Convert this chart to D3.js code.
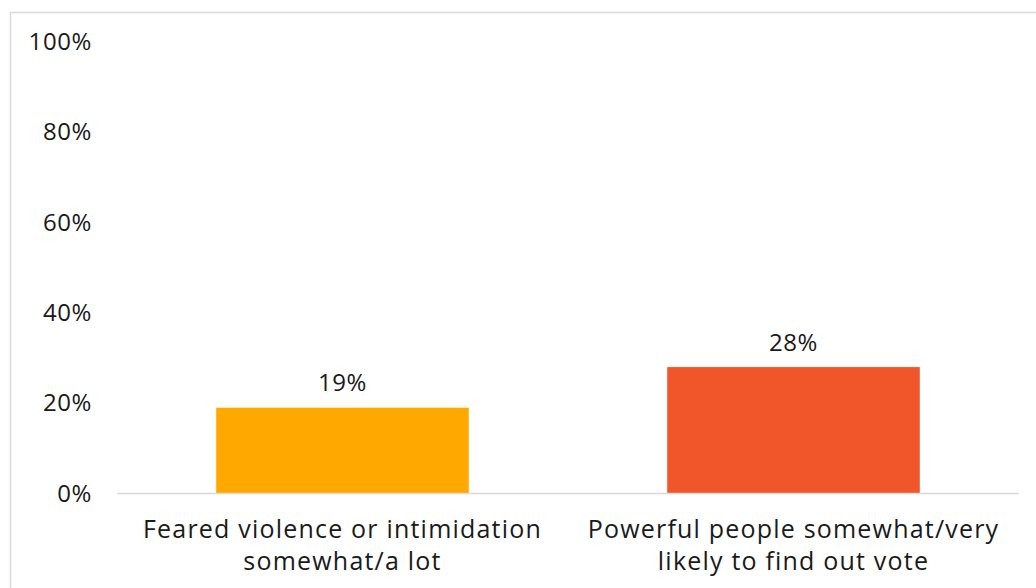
<!DOCTYPE html>
<html>
<head>
<meta charset="utf-8">
<script src="https://cdn.jsdelivr.net/npm/d3@7"></script>
<style>
  html, body { margin: 0; padding: 0; background: #fff; }
  svg { display: block; }
  text { font-family: "Open Sans", "Lato", sans-serif; fill: #1a1a1a; }
</style>
</head>
<body>
<svg id="chart" width="1036" height="588"></svg>
<script>
// Survey results
const categories = [
  ["Feared violence or intimidation", "somewhat/a lot"],
  ["Powerful people somewhat/very", "likely to find out vote"]
];
const values = [0.19, 0.28];
const barColors = ["#FFA800", "#F1562A"];
const yTicks = [0, 0.2, 0.4, 0.6, 0.8, 1.0];

const svg = d3.select("#chart");
const W = 1036, H = 588;
const plot = { left: 117, right: 1019, top: 42, bottom: 493.5 };
const fontSize = 25;
const spacing = "1.2px";

// outer frame
svg.append("rect")
  .attr("x", 10.5).attr("y", 12.5)
  .attr("width", W + 20).attr("height", H + 20)
  .attr("fill", "none").attr("stroke", "#d9d9d9").attr("stroke-width", 1.5);

const keys = categories.map((c, i) => i);
const x = d3.scaleBand()
  .domain(keys)
  .range([plot.left, plot.right])
  .paddingInner(0.44)
  .paddingOuter(0.22);

const y = d3.scaleLinear().domain([0, 1]).range([plot.bottom, plot.top]);

// y axis labels
const yAxis = d3.axisLeft(y)
  .tickValues(yTicks)
  .tickFormat(d3.format(".0%"))
  .tickSize(0)
  .tickPadding(0);
const gy = svg.append("g")
  .attr("transform", `translate(92,0)`)
  .call(yAxis);
gy.select(".domain").remove();
gy.selectAll("text")
  .attr("font-size", 24)
  .attr("letter-spacing", "0.6px")
  .attr("font-family", "'Open Sans', sans-serif")
  .attr("fill", "#1a1a1a");

// bars
svg.append("g").selectAll("rect")
  .data(values)
  .join("rect")
  .attr("x", (d, i) => x(i))
  .attr("width", x.bandwidth())
  .attr("y", d => y(d))
  .attr("height", d => y(0) - y(d))
  .attr("fill", (d, i) => barColors[i]);

// baseline
svg.append("line")
  .attr("x1", plot.left).attr("x2", plot.right)
  .attr("y1", y(0)).attr("y2", y(0))
  .attr("stroke", "#d9d9d9").attr("stroke-width", 1.5);

// value labels
svg.append("g").selectAll("text")
  .data(values)
  .join("text")
  .attr("x", (d, i) => x(i) + x.bandwidth() / 2)
  .attr("y", d => y(d) - 26)
  .attr("text-anchor", "middle")
  .attr("dominant-baseline", "central")
  .attr("font-size", 24)
  .attr("letter-spacing", "0.6px")
  .text(d => d3.format(".0%")(d));

// category labels
const gx = svg.append("g");
categories.forEach((lines, i) => {
  const cx = x(i) + x.bandwidth() / 2;
  const t = gx.append("text")
    .attr("x", cx)
    .attr("y", 528)
    .attr("text-anchor", "middle")
    .attr("font-size", fontSize)
    .attr("letter-spacing", spacing);
  lines.forEach((ln, j) => {
    t.append("tspan")
      .attr("x", cx)
      .attr("y", 528 + j * 32)
      .attr("dominant-baseline", "central")
      .text(ln);
  });
});
</script>
</body>
</html>
